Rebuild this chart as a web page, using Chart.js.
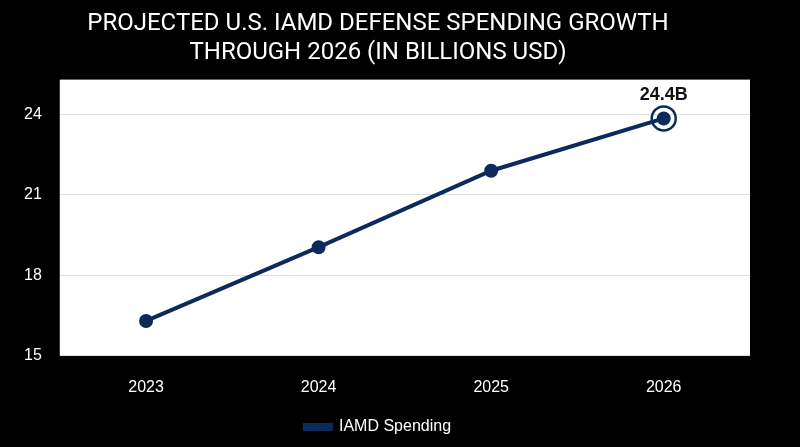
<!DOCTYPE html>
<html>
<head>
<meta charset="utf-8">
<script src="https://cdn.jsdelivr.net/npm/chart.js@4/dist/chart.umd.min.js"></script>
<style>
  html, body { margin: 0; padding: 0; background: #000; }
  #wrap { width: 800px; height: 447px; }
</style>
</head>
<body>
<div id="wrap"><canvas id="c"></canvas></div>
<script>
// chart data
const years = ['2023', '2024', '2025', '2026'];
const spending = [16.3, 19.05, 21.9, 23.85];
const yTicks = [15, 18, 21, 24];
const peakLabel = '24.4B';

const navy = '#0d2a5c';

// white plot background + highlight of the last point
const plotDecor = {
    id: 'plotDecor',
    beforeDraw(chart) {
        const { ctx, chartArea: a } = chart;
        ctx.save();
        ctx.fillStyle = '#fff';
        ctx.fillRect(a.left, a.top - 8, a.right - a.left, a.bottom - a.top + 8);
        ctx.restore();
    },
    afterDatasetsDraw(chart) {
        const { ctx } = chart;
        const pt = chart.getDatasetMeta(0).data[spending.length - 1];
        ctx.save();
        ctx.strokeStyle = navy;
        ctx.lineWidth = 2.5;
        ctx.beginPath();
        ctx.arc(pt.x, pt.y, 12, 0, Math.PI * 2);
        ctx.stroke();
        ctx.fillStyle = '#111';
        ctx.font = 'bold 18px "Liberation Sans", Arial, sans-serif';
        ctx.textAlign = 'center';
        ctx.textBaseline = 'bottom';
        ctx.fillText(peakLabel, pt.x, pt.y - 14);
        ctx.restore();
    }
};

new Chart(document.getElementById('c'), {
    type: 'line',
    data: {
        labels: years,
        datasets: [{
            label: 'IAMD Spending',
            data: spending,
            borderColor: navy,
            backgroundColor: navy,
            borderWidth: 4,
            pointRadius: 5,
            pointBackgroundColor: navy,
            tension: 0
        }]
    },
    options: {
        responsive: true,
        maintainAspectRatio: false,
        animation: false,
        layout: { padding: { left: 6, right: 50, top: 0, bottom: 2 } },
        plugins: {
            title: {
                display: true,
                text: ['PROJECTED U.S. IAMD DEFENSE SPENDING GROWTH', 'THROUGH 2026 (IN BILLIONS USD)'],
                color: '#fff',
                font: { family: 'Roboto, "Liberation Sans", sans-serif', size: 24, weight: 'normal', lineHeight: 1.2 },
                padding: { top: 10, bottom: 20 }
            },
            legend: {
                position: 'bottom',
                labels: {
                    color: '#fff',
                    boxWidth: 26,
                    boxHeight: 4,
                    font: { family: '"Liberation Sans", Arial, sans-serif', size: 16 },
                    padding: 8
                }
            },
            tooltip: { enabled: false }
        },
        scales: {
            x: {
                offset: true,
                grid: { display: false },
                border: { display: false },
                ticks: { color: '#fff', font: { family: '"Liberation Sans", Arial, sans-serif', size: 16 }, padding: 14 }
            },
            y: {
                min: 15,
                max: 25,
                afterBuildTicks: axis => { axis.ticks = yTicks.map(v => ({ value: v })); },
                grid: { color: '#ddd', drawTicks: false },
                border: { display: false },
                ticks: { color: '#fff', font: { family: '"Liberation Sans", Arial, sans-serif', size: 16 }, padding: 18 }
            }
        }
    },
    plugins: [plotDecor]
});
</script>
</body>
</html>
